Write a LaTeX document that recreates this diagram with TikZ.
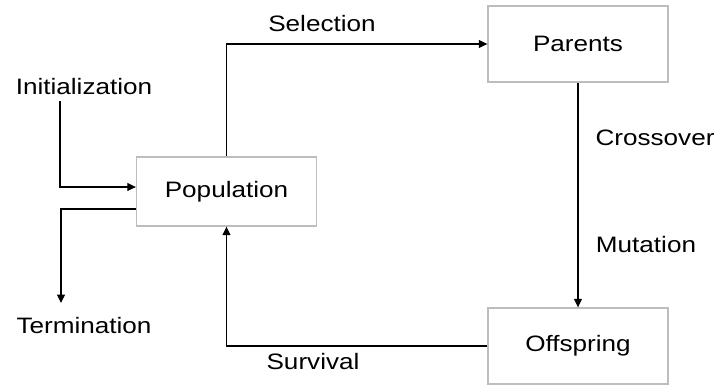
\documentclass[tikz,border=0pt]{standalone}
\usepackage{fontspec}
\setmainfont[FakeStretch=1.17]{Liberation Sans}
\usepackage{tikz}
\usetikzlibrary{arrows.meta, positioning, calc}
\definecolor{boxgray}{HTML}{BDBDBD}
\tikzset{
  stagebox/.style={
    draw=boxgray, fill=white, line width=0.8pt,
    minimum width=3.6cm, minimum height=1.52cm,
    inner sep=0pt, font=\fontsize{12.7}{15}\selectfont
  },
  tag/.style={inner sep=2pt, font=\fontsize{12.7}{15}\selectfont},
  arrow/.style={-{Triangle[length=0.17cm, width=0.16cm]}, line width=0.6pt}
}
\begin{document}
\begin{tikzpicture}[x=0.02cm, y=-0.02cm]
  \useasboundingbox (0,0) rectangle (724,386);
  % boxes
  \node[stagebox, minimum height=1.38cm] (pop) at (226.5,191.5) {Population};
  \node[stagebox] (parents) at (578,44) {Parents};
  \node[stagebox] (offspring) at (578,346) {Offspring};
  % labels
  \node[tag] (init) at (84,87) {Initialization};
  \node[tag] (term) at (84,326) {Termination};
  \node[tag] (sel) at (322,24) {Selection};
  \node[tag] (cross) at (655,138) {Crossover};
  \node[tag] (mut) at (646,245) {Mutation};
  \node[tag] (surv) at (313,362) {Survival};
  \coordinate (initstart) at (60,101);
  \coordinate (termtip) at (61,303);
  % connectors
  \draw[arrow] (initstart) |- ($(pop.west)+(0,-4.5)$);
  \draw[arrow] ($(pop.west)+(0,17.5)$) -| (termtip);
  \draw[arrow] (pop.north) |- (parents.west);
  \draw[arrow] (parents.south) -- (offspring.north);
  \draw[arrow] (offspring.west) -| (pop.south);
\end{tikzpicture}
\end{document}
